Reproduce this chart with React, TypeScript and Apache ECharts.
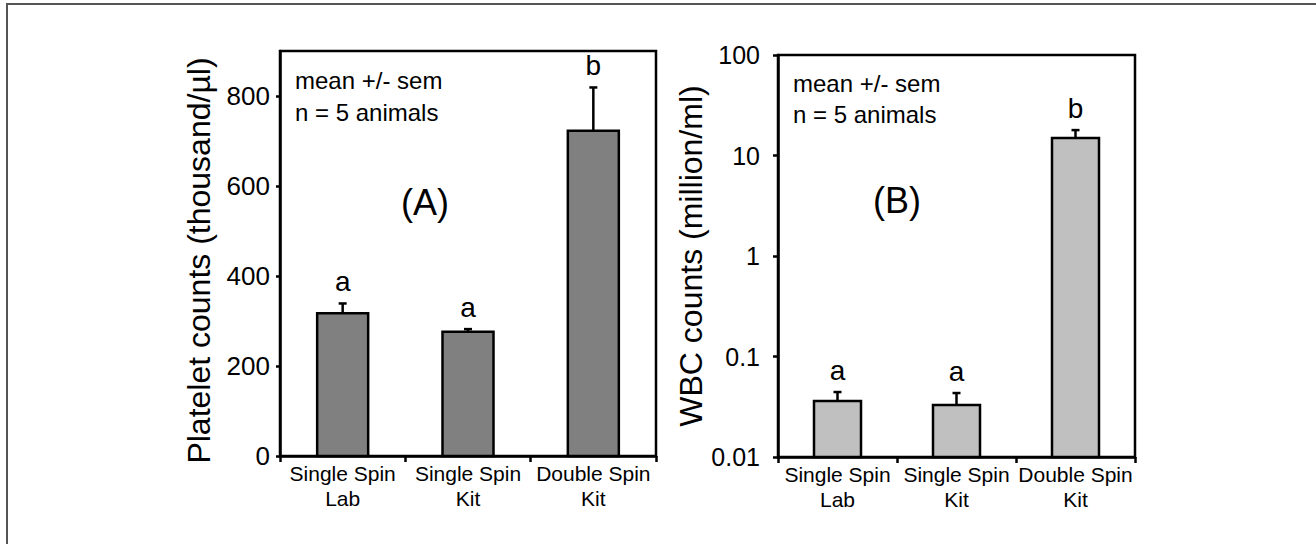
import React, { useEffect, useRef } from "react";
import * as echarts from "echarts";

const categories = ["Single Spin\nLab", "Single Spin\nKit", "Double Spin\nKit"];
const plateletMean = [317, 276, 723];
const plateletSem = [22, 6, 96];
const plateletLetters = ["a", "a", "b"];
const plateletTicks = [0, 200, 400, 600, 800];
const plateletMin = 0;
const plateletMax = 900;

const wbcMean = [0.0361, 0.0329, 14.9];
const wbcSem = [0.0082, 0.0104, 3.0];
const wbcLetters = ["a", "a", "b"];
const wbcMin = 0.01;
const wbcMax = 100;

const FONT = '"Liberation Sans", Arial, Helvetica, sans-serif';

function makeRender(letters: string[], barWidth: number, fill: string, baseValue: number) {
  return (params: any, api: any) => {
    const i = api.value(0);
    const m = api.value(1);
    const e = api.value(2);
    const top = api.coord([i, m]);
    const base = api.coord([i, baseValue]);
    const errTop = api.coord([i, m + e]);
    const x = top[0];
    return {
      type: "group",
      children: [
        {
          type: "rect",
          shape: { x: x - barWidth / 2, y: top[1], width: barWidth, height: base[1] - top[1] },
          style: { fill, stroke: "#000", lineWidth: 2.5 },
        },
        {
          type: "line",
          shape: { x1: x, y1: top[1], x2: x, y2: errTop[1] },
          style: { stroke: "#000", lineWidth: 2.5 },
        },
        {
          type: "line",
          shape: { x1: x - 4, y1: errTop[1], x2: x + 4, y2: errTop[1] },
          style: { stroke: "#000", lineWidth: 2.5 },
        },
        {
          type: "text",
          x: x,
          y: errTop[1] - 8,
          style: {
            text: letters[i],
            fill: "#000",
            fontSize: 28,
            fontFamily: FONT,
            align: "center",
            textAlign: "center",
            verticalAlign: "alphabetic",
            textVerticalAlign: "bottom",
          },
        },
      ],
    };
  };
}

function xAxisCfg(gridIndex: number) {
  return {
    type: "category",
    gridIndex,
    data: categories,
    axisLine: { show: true, lineStyle: { color: "#000", width: 2.5 } },
    axisTick: { show: true, length: 6, alignWithLabel: false, lineStyle: { color: "#000", width: 2.5 } },
    axisLabel: { color: "#000", fontSize: 21, lineHeight: 25, margin: 5, fontFamily: FONT, interval: 0 },
    splitLine: { show: false },
  };
}

export default function App() {
  const ref = useRef<HTMLDivElement>(null);
  useEffect(() => {
    if (!ref.current) return;
    const chart = echarts.init(ref.current, undefined, { renderer: "svg" });
    const option: any = {
      animation: false,
      backgroundColor: "#fff",
      textStyle: { fontFamily: FONT },
      grid: [
        { left: 280, top: 51, width: 376, height: 405, show: true, borderColor: "#000", borderWidth: 2.5, backgroundColor: "transparent" },
        { left: 778, top: 55, width: 357, height: 402, show: true, borderColor: "#000", borderWidth: 2.5, backgroundColor: "transparent" },
      ],
      xAxis: [xAxisCfg(0), xAxisCfg(1)],
      yAxis: [
        {
          type: "value",
          gridIndex: 0,
          min: plateletMin,
          max: plateletMax,
          interval: 200,
          name: "Platelet counts (thousand/µl)",
          nameLocation: "middle",
          nameGap: 65,
          nameTextStyle: { color: "#000", fontSize: 32, fontFamily: FONT, padding: [0, 14, 0, 0] },
          axisLine: { show: true, lineStyle: { color: "#000", width: 2.5 } },
          axisTick: { show: true, length: 4, lineStyle: { color: "#000", width: 2.5 }, customValues: plateletTicks },
          axisLabel: { color: "#000", fontSize: 26, margin: 10, fontFamily: FONT, customValues: plateletTicks },
          splitLine: { show: false },
        },
        {
          type: "log",
          logBase: 10,
          gridIndex: 1,
          min: wbcMin,
          max: wbcMax,
          name: "WBC counts (million/ml)",
          nameLocation: "middle",
          nameGap: 64,
          nameTextStyle: { color: "#000", fontSize: 32, fontFamily: FONT },
          axisLine: { show: true, lineStyle: { color: "#000", width: 2.5 } },
          axisTick: { show: true, length: 5, lineStyle: { color: "#000", width: 2.5 } },
          axisLabel: {
            color: "#000",
            fontSize: 25,
            margin: 18,
            fontFamily: FONT,
            formatter: (v: number) => String(parseFloat(Number(v).toPrecision(3))),
          },
          splitLine: { show: false },
          minorTick: { show: false },
        },
      ],
      series: [
        {
          type: "custom",
          xAxisIndex: 0,
          yAxisIndex: 0,
          encode: { x: 0, y: 1 },
          data: plateletMean.map((m, i) => [i, m, plateletSem[i]]),
          renderItem: makeRender(plateletLetters, 51, "#808080", plateletMin),
        },
        {
          type: "custom",
          xAxisIndex: 1,
          yAxisIndex: 1,
          encode: { x: 0, y: 1 },
          data: wbcMean.map((m, i) => [i, m, wbcSem[i]]),
          renderItem: makeRender(wbcLetters, 47, "#c0c0c0", wbcMin),
        },
      ],
      graphic: [
        {
          type: "rect",
          shape: { x: 7, y: 4, width: 1400, height: 700 },
          style: { fill: "none", stroke: "#555", lineWidth: 2 },
          silent: true,
        },
        {
          type: "text",
          x: 295,
          y: 80,
          style: { text: "mean +/- sem", fontSize: 24, fontFamily: FONT, fill: "#000", textVerticalAlign: "middle", verticalAlign: "middle" },
        },
        {
          type: "text",
          x: 295,
          y: 112,
          style: { text: "n = 5 animals", fontSize: 24, fontFamily: FONT, fill: "#000", textVerticalAlign: "middle", verticalAlign: "middle" },
        },
        {
          type: "text",
          x: 425,
          y: 202,
          style: { text: "(A)", fontSize: 36, fontFamily: FONT, fill: "#000", textAlign: "center", align: "center", textVerticalAlign: "middle", verticalAlign: "middle" },
        },
        {
          type: "text",
          x: 793,
          y: 83,
          style: { text: "mean +/- sem", fontSize: 24, fontFamily: FONT, fill: "#000", textVerticalAlign: "middle", verticalAlign: "middle" },
        },
        {
          type: "text",
          x: 793,
          y: 114,
          style: { text: "n = 5 animals", fontSize: 24, fontFamily: FONT, fill: "#000", textVerticalAlign: "middle", verticalAlign: "middle" },
        },
        {
          type: "text",
          x: 897,
          y: 200,
          style: { text: "(B)", fontSize: 36, fontFamily: FONT, fill: "#000", textAlign: "center", align: "center", textVerticalAlign: "middle", verticalAlign: "middle" },
        },
      ],
    };
    chart.setOption(option);
    return () => chart.dispose();
  }, []);
  return (
    <div
      ref={ref}
      style={{ position: "fixed", left: 0, top: 0, width: 1316, height: 544, background: "#fff" }}
    />
  );
}
